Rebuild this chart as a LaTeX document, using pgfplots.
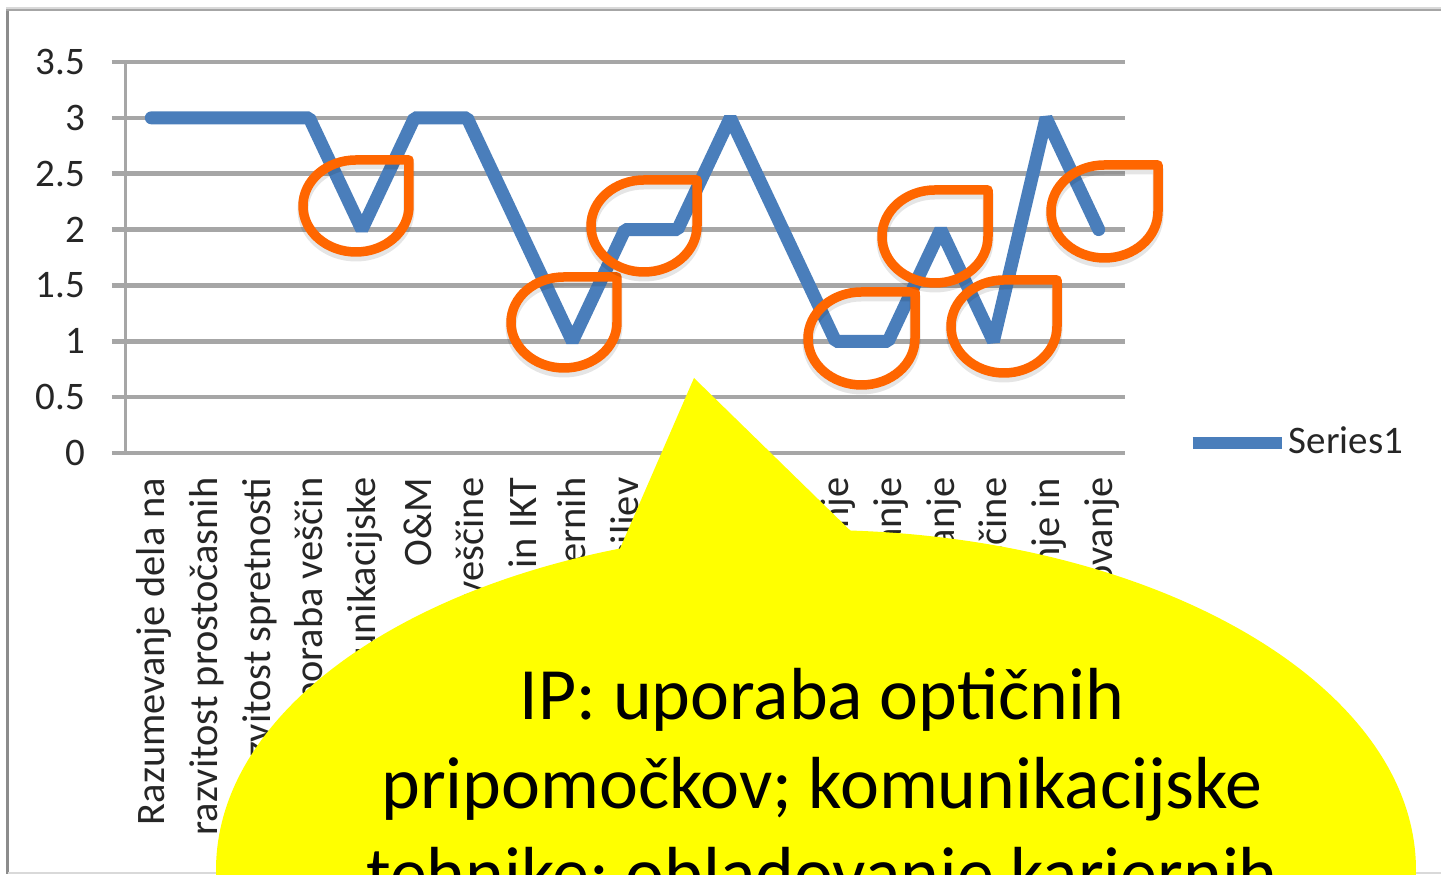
\documentclass[border=0pt]{standalone}
\usepackage{pgfplots}
\pgfplotsset{compat=1.18}
\usepackage{fontspec}
\setmainfont{Carlito}
\definecolor{sblue}{HTML}{4A7EBB}
\definecolor{sorange}{HTML}{FF6600}
\definecolor{sgrid}{HTML}{A6A6A6}
\definecolor{sframe}{HTML}{8C8C8C}
\definecolor{byellow}{RGB}{255,255,0}
\newcommand{\tear}[4]{%
  \draw[black, opacity=0.10, line width=1.1mm, line join=round] ({#2},{875-#3-4}) -- ({(#1+#2)/2},{875-#3-4}) arc[start angle=90, end angle=360, x radius={(#2-#1)/2}, y radius={(#4-#3)/2}] -- cycle;
  \draw[sorange, line width=0.95mm, line join=round] ({#2},{875-#3}) -- ({(#1+#2)/2},{875-#3}) arc[start angle=90, end angle=360, x radius={(#2-#1)/2}, y radius={(#4-#3)/2}] -- cycle;
}
\begin{document}
\begin{tikzpicture}[x=0.1mm,y=0.1mm]
% background and frame (image coordinates: tikz (x, 875-y), shifted so the axis corner is the origin)
\begin{scope}[shift={(-125,-422)}]
\fill[white] (0,0) rectangle (1441,875);
\draw[line width=0.3mm, sframe] (8,1) -- (8,865);
\draw[line width=0.3mm, sgrid] (6.5,865) -- (1441,865);
\draw[line width=0.15mm, black!15] (6.5,867) -- (1441,867);
\draw[line width=0.15mm, black!15] (8,2) -- (1441,2);
\end{scope}
\begin{axis}[
  at={(0,0)}, anchor=south west,
  scale only axis, width=100mm, height=39.1mm,
  xmin=-0.5, xmax=18.5, ymin=0, ymax=3.5,
  axis lines*=left,
  axis line style={sgrid, line width=0.3mm},
  tick align=outside,
  xtick={0,...,18},
  xticklabels={Razumevanje dela na, razvitost prostočasnih, razvitost spretnosti, uporaba veščin, komunikacijske, O\&M, socialne veščine, računalništvo in IKT, obvladovanje kariernih, postavljanje ciljev, uporaba optičnih pripomočkov, orientacija, samostojno gibanje, načrtovanje, reševanje, odločanje, življenjske veščine, samozaupanje in, sodelovanje},
  major x tick style={draw=none},
  extra x ticks={-0.5,0.5,1.5,2.5,3.5,4.5,5.5,6.5,7.5,8.5,9.5,10.5,11.5,12.5,13.5,14.5,15.5,16.5,17.5,18.5},
  extra x tick labels={},
  extra x tick style={major tick length=0.9mm, tick style={sgrid, line width=0.3mm}},
  ytick={0,0.5,...,3.5},
  ymajorgrids,
  grid style={sgrid, line width=0.45mm},
  major y tick style={sgrid, line width=0.45mm},
  major tick length=1.3mm,
  /pgf/number format/assume math mode=true,
  yticklabel style={font=\fontsize{11.1pt}{13pt}\selectfont, text=black!85, anchor=east, inner sep=0pt, xshift=-2.6mm},
  xticklabel style={font=\fontsize{11.5pt}{13.5pt}\selectfont, text=black!85, yshift=-1.1mm, xshift=0.3mm, rotate=90, anchor=east, inner sep=0pt},
  clip=false,
  legend style={at={(1.061,0.026)}, anchor=west, draw=none, fill=none, inner sep=0pt, font=\fontsize{11.1pt}{13pt}\selectfont, text=black!85, nodes={inner xsep=0.1mm}},
  legend image code/.code={\draw[#1, line width=1.2mm, line cap=butt] (0mm,0mm) -- (8.9mm,0mm);},
]
\addplot[sblue, line width=1.3mm, line join=bevel, line cap=round] coordinates {
 (0,3) (1,3) (2,3) (3,3) (4,2) (5,3) (6,3) (7,2) (8,1) (9,2)
 (10,2) (11,3) (12,2) (13,1) (14,1) (15,2) (16,1) (17,3) (18,2)};
\addlegendentry{Series1}
\end{axis}
\begin{scope}[shift={(-125,-422)}]
% orange teardrop highlights
\tear{303}{409}{160}{252}
\tear{511}{617}{277}{368}
\tear{591}{697}{180}{272}
\tear{808}{915}{292}{385}
\tear{882}{988}{190}{283}
\tear{951}{1057}{280}{373}
\tear{1051}{1158}{165}{258}
% yellow speech bubble
\fill[byellow] (816,5) ellipse [x radius=600, y radius=340];
\fill[byellow] (694,497) -- (615,315) -- (860,335) -- cycle;
\node[anchor=base, inner sep=0pt, font=\fontsize{21pt}{25pt}\selectfont] at (822,155) {IP: uporaba optičnih};
\node[anchor=base, inner sep=0pt, font=\fontsize{21pt}{25pt}\selectfont] at (822,66) {pripomočkov; komunikacijske};
\node[anchor=base, inner sep=0pt, font=\fontsize{21pt}{25pt}\selectfont] at (822,-24) {tehnike; obladovanje kariernih};
\end{scope}
\pgfresetboundingbox
\useasboundingbox (-125,-422) rectangle (1316,453);
\end{tikzpicture}
\end{document}
